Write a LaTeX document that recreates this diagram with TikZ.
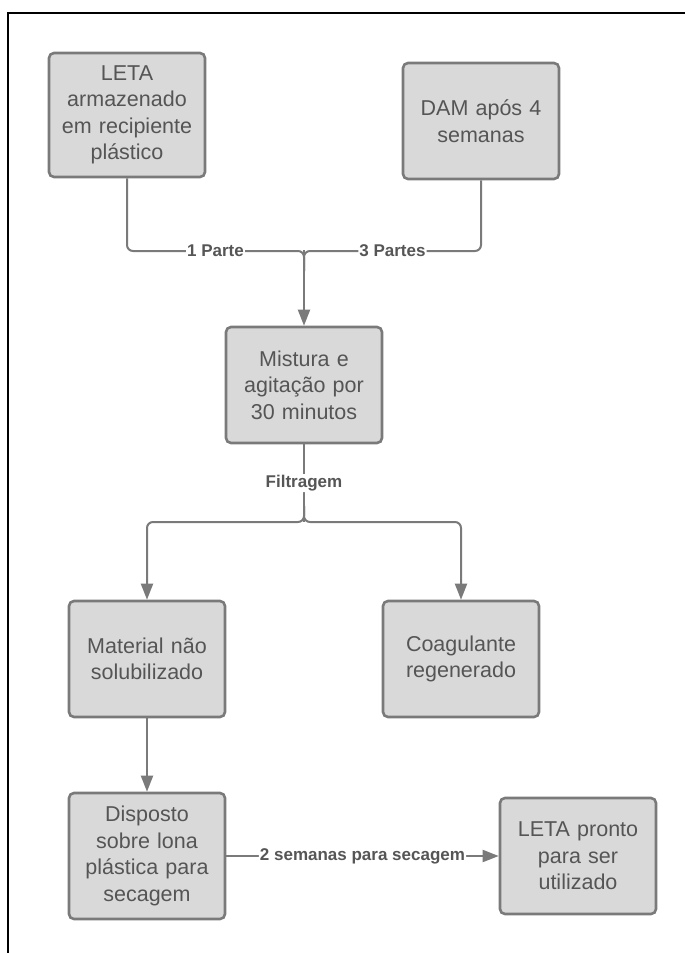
\documentclass[tikz,border=0pt]{standalone}
\usepackage{fontspec}
\setmainfont{Liberation Sans}
\usetikzlibrary{arrows.meta}
\definecolor{boxfill}{HTML}{D9D9D9}
\definecolor{boxline}{HTML}{7A7A7A}
\definecolor{txt}{HTML}{555555}
\definecolor{lbl}{HTML}{565656}
\tikzset{
  procbox/.style={rectangle, rounded corners=5pt, draw=boxline, fill=boxfill,
    line width=2.6pt, minimum width=156pt, text width=150pt, align=center,
    inner sep=0pt, text=txt, font=\fontsize{21.5}{26.5}\selectfont},
  flow/.style={draw=boxline, line width=2pt, rounded corners=6pt},
  tip/.style={-{Triangle[length=16pt,width=12pt]}},
  flowlabel/.style={fill=white, inner sep=1pt, text=lbl,
    font=\bfseries\fontsize{17}{20}\selectfont}
}
\begin{document}
\begin{tikzpicture}[x=1pt, y=-1pt]
  \useasboundingbox (0,0) rectangle (685,953);
  % page frame (left and top edges)
  \draw[line width=2pt, black] (8,953) -- (8,13) -- (685,13);

  % process steps
  \node[procbox, minimum height=124pt] (leta) at (127,115) {LETA\\armazenado\\em recipiente\\plástico};
  \node[procbox, minimum height=116pt] (dam) at (481,121) {DAM após 4\\semanas};
  \node[procbox, minimum height=116pt] (mist) at (304,385) {Mistura e\\agitação por\\30 minutos};
  \node[procbox, minimum height=116pt] (mat) at (147,659) {Material não\\solubilizado};
  \node[procbox, minimum height=116pt] (coag) at (461,659) {Coagulante\\regenerado};
  \node[procbox, minimum height=126pt] (disp) at (147,856) {Disposto\\sobre lona\\plástica para\\secagem};
  \node[procbox, minimum height=116pt] (pronto) at (578,856) {LETA pronto\\para ser\\utilizado};

  % junction points
  \coordinate (join) at (304,251);
  \coordinate (split) at (304,522);

  % mixing of the two inputs
  \draw[flow] (leta.south) |- (join) node[pos=0.75, flowlabel] {1 Parte} -- ++(0,20);
  \draw[flow] (dam.south) |- (join) node[pos=0.75, flowlabel] {3 Partes} -- ++(0,20);
  \draw[flow, tip] (join) ++(0,-1) -- (mist.north);

  % filtration split
  \draw[flow] (mist.south) -- (split) node[midway, flowlabel] {Filtragem};
  \draw[flow, tip] (304,506) -- (split) -| (mat.north);
  \draw[flow, tip] (304,506) -- (split) -| (coag.north);

  % drying
  \draw[flow, tip] (mat.south) -- (disp.north);
  \draw[flow, tip] (disp.east) -- (pronto.west) node[midway, flowlabel] {2 semanas para secagem};
\end{tikzpicture}
\end{document}
